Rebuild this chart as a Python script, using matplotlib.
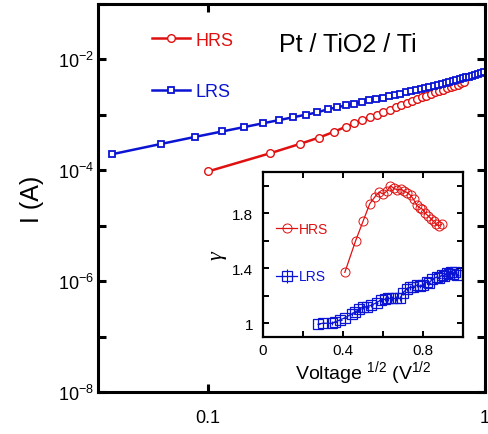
import numpy as np
import matplotlib
matplotlib.use("Agg")
import matplotlib.pyplot as plt
from matplotlib.ticker import FixedLocator, FuncFormatter, NullLocator

plt.rcParams['font.family'] = ['Liberation Sans', 'DejaVu Sans']
plt.rcParams['mathtext.default'] = 'regular'

RED = '#e01010'
BLUE = '#0a14d2'

# main I-V data (HRS / LRS)
hrs_v = [0.100, 0.167, 0.214, 0.251, 0.285, 0.314, 0.337, 0.360, 0.383, 0.406,
         0.429, 0.452, 0.475, 0.498, 0.521, 0.544, 0.567, 0.590, 0.613, 0.636,
         0.659, 0.682, 0.705, 0.728, 0.751, 0.774, 0.797, 0.820, 0.843]
hrs_i = [9.55e-5, 2.02e-4, 2.98e-4, 3.88e-4, 4.95e-4, 6.10e-4, 7.00e-4, 7.96e-4,
         8.99e-4, 1.009e-3, 1.125e-3, 1.247e-3, 1.374e-3, 1.507e-3, 1.644e-3,
         1.786e-3, 1.932e-3, 2.080e-3, 2.228e-3, 2.382e-3, 2.535e-3, 2.692e-3,
         2.851e-3, 3.013e-3, 3.177e-3, 3.342e-3, 3.516e-3, 3.690e-3, 3.864e-3]

lrs_v = [0.045, 0.0675, 0.09, 0.1125, 0.135, 0.1575, 0.18, 0.2025, 0.225, 0.2475,
         0.27, 0.2925, 0.315, 0.3375, 0.36, 0.3825, 0.405, 0.4275, 0.45, 0.4725,
         0.495, 0.5175, 0.54, 0.5625, 0.585, 0.6075, 0.63, 0.6525, 0.675, 0.6975,
         0.72, 0.7425, 0.765, 0.7875, 0.81, 0.8325, 0.855, 0.8775, 0.9, 0.9225,
         0.945, 0.9675, 0.99]
lrs_i = [1.950e-4, 2.985e-4, 4.018e-4, 5.023e-4, 6.026e-4, 7.031e-4, 8.035e-4,
         9.036e-4, 1.005e-3, 1.104e-3, 1.262e-3, 1.371e-3, 1.483e-3, 1.592e-3,
         1.706e-3, 1.824e-3, 1.941e-3, 2.056e-3, 2.178e-3, 2.301e-3, 2.427e-3,
         2.553e-3, 2.679e-3, 2.812e-3, 2.944e-3, 3.083e-3, 3.221e-3, 3.357e-3,
         3.499e-3, 3.648e-3, 3.793e-3, 3.936e-3, 4.093e-3, 4.256e-3, 4.416e-3,
         4.581e-3, 4.742e-3, 4.920e-3, 5.093e-3, 5.272e-3, 5.458e-3, 5.636e-3,
         5.834e-3]

# inset: gamma vs sqrt(V)
hrs_sqrtv = [0.409, 0.463, 0.501, 0.534, 0.560, 0.581, 0.600, 0.619, 0.637, 0.655,
             0.672, 0.689, 0.706, 0.722, 0.738, 0.753, 0.768, 0.783, 0.797, 0.812,
             0.826, 0.840, 0.853, 0.867, 0.880, 0.893]
hrs_gamma = [1.37, 1.60, 1.745, 1.87, 1.92, 1.955, 1.94, 1.96, 2.00, 1.98,
             1.97, 1.975, 1.96, 1.95, 1.93, 1.90, 1.86, 1.84, 1.83, 1.80,
             1.78, 1.76, 1.74, 1.72, 1.71, 1.72]

lrs_sqrtv = [0.277, 0.30, 0.343, 0.36, 0.385, 0.41, 0.443, 0.46, 0.48, 0.50,
             0.52, 0.54, 0.568, 0.59, 0.61, 0.627, 0.645, 0.665, 0.685, 0.70,
             0.718, 0.735, 0.75, 0.768, 0.785, 0.80, 0.818, 0.83, 0.845, 0.868,
             0.88, 0.895, 0.905, 0.918, 0.93, 0.94, 0.95, 0.96, 0.97]
lrs_gamma = [0.995, 1.0, 1.0, 1.01, 1.024, 1.04, 1.067, 1.08, 1.10, 1.12,
             1.12, 1.13, 1.15, 1.17, 1.175, 1.18, 1.18, 1.18, 1.18, 1.22,
             1.25, 1.26, 1.265, 1.276, 1.27, 1.28, 1.30, 1.29, 1.32, 1.336,
             1.33, 1.35, 1.34, 1.365, 1.36, 1.37, 1.36, 1.37, 1.35]

fig = plt.figure(figsize=(4.88, 4.35), dpi=100)
ax = fig.add_axes([0.2008, 0.0966, 0.9939 - 0.2008, 0.9885 - 0.0966])

ax.plot(hrs_v, hrs_i, '-o', color=RED, lw=1.8, ms=5.5, mfc='white', mew=1.0, label='HRS')
ax.plot(lrs_v, lrs_i, '-s', color=BLUE, lw=1.8, ms=5.0, mfc='white', mew=1.3, label='LRS')
ax.set_xscale('log')
ax.set_yscale('log')
ax.set_xlim(0.04, 1)
ax.set_ylim(1e-8, 1e-1)

ax.xaxis.set_major_locator(FixedLocator([0.1, 1]))
ax.xaxis.set_major_formatter(FuncFormatter(lambda v, p: '0.1' if v < 0.5 else '1'))
ax.xaxis.set_minor_locator(NullLocator())
ax.yaxis.set_major_locator(FixedLocator([10.0 ** e for e in range(-8, 0)]))
def ylab(v, p):
    e = int(round(np.log10(v)))
    return '$10^{%d}$' % e if e % 2 == 0 else ''
ax.yaxis.set_major_formatter(FuncFormatter(ylab))
ax.yaxis.set_minor_locator(NullLocator())
for s in ax.spines.values():
    s.set_linewidth(2.2)
ax.tick_params(which='major', direction='in', top=True, right=True,
               length=6, width=2.2, labelsize=13)
ax.tick_params(axis='x', pad=12)
ax.tick_params(axis='y', pad=3)
ax.set_ylabel('I (A)', fontsize=18, labelpad=10)

ax.legend(loc='upper left', bbox_to_anchor=(0.311, 0.925), bbox_transform=fig.transFigure,
          frameon=False, fontsize=13, handlelength=2.1, handletextpad=0.3,
          labelspacing=1.9, borderpad=0, borderaxespad=0, labelcolor='linecolor')
fig.text(0.713, 0.897, 'Pt / TiO2 / Ti', fontsize=18, ha='center', va='center')

# inset
axi = fig.add_axes([0.539, 0.223, 0.9488 - 0.539, 0.6023 - 0.223])
axi.plot(hrs_sqrtv, hrs_gamma, '-o', color=RED, lw=0.9, ms=6.5, mfc='none', mew=0.7, label='HRS')
axi.errorbar(lrs_sqrtv, lrs_gamma, yerr=0.015, xerr=0.008, fmt='-s', color=BLUE, lw=0.9,
             elinewidth=0.8, ms=7, mfc='none', mew=0.9, label='LRS')
axi.set_xlim(0, 1)
axi.set_ylim(0.9, 2.1)
axi.xaxis.set_major_locator(FixedLocator([0, 0.2, 0.4, 0.6, 0.8, 1.0]))
axi.xaxis.set_major_formatter(FuncFormatter(
    lambda v, p: {0: '0', 2: '', 4: '0.4', 6: '', 8: '0.8', 10: ''}[int(round(v * 10))]))
axi.yaxis.set_major_locator(FixedLocator([1.0, 1.2, 1.4, 1.6, 1.8, 2.0]))
axi.yaxis.set_major_formatter(FuncFormatter(
    lambda v, p: {10: '1', 12: '', 14: '1.4', 16: '', 18: '1.8', 20: ''}[int(round(v * 10))]))
for s in axi.spines.values():
    s.set_linewidth(1.6)
axi.tick_params(direction='in', top=True, right=True, length=4, width=1.4, labelsize=11)
axi.tick_params(axis='y', pad=7)
axi.tick_params(axis='x', pad=4)
axi.set_xlabel('Voltage $^{1/2}$ (V$^{1/2}$', fontsize=14, labelpad=1)
axi.set_ylabel('γ', fontsize=16, family='Liberation Serif', style='italic', labelpad=4)
axi.legend(loc='upper left', bbox_to_anchor=(0.566, 0.487), bbox_transform=fig.transFigure,
           frameon=False, fontsize=10, handlelength=1.5, handletextpad=0.1,
           labelspacing=2.4, borderpad=0, borderaxespad=0, labelcolor='linecolor')

fig.savefig('out.png', dpi=100)
